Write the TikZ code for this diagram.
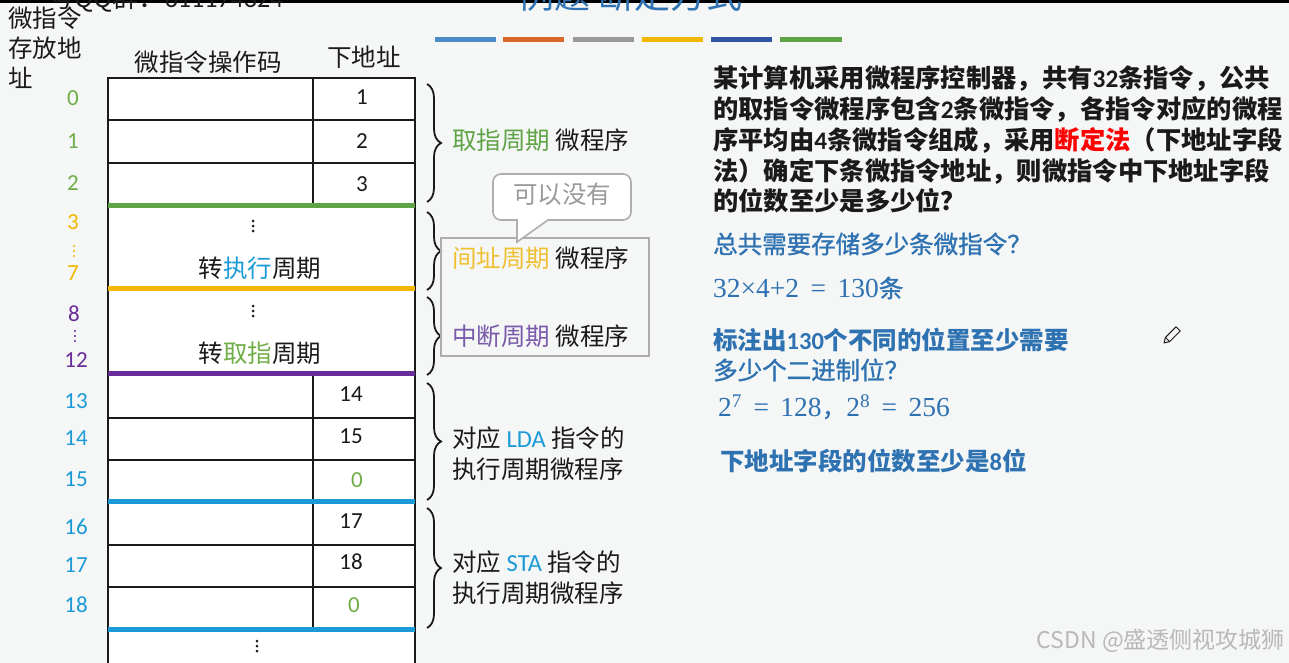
\documentclass[tikz,border=0pt]{standalone}
\usepackage{fontspec}
\setmainfont{Noto Sans CJK SC}
\newfontfamily\cjkm{Noto Sans CJK SC}[FakeBold=1.2]
\newfontfamily\calf{Carlito}
\newfontfamily\serf{Liberation Serif}
\usetikzlibrary{decorations.pathreplacing}
\definecolor{bgc}{HTML}{F5F6F6}
\definecolor{cgreen}{HTML}{70AD47}
\definecolor{lgreen}{HTML}{5EA345}
\definecolor{cyel}{HTML}{F2B700}
\definecolor{lyel}{HTML}{EFC030}
\definecolor{cpurp}{HTML}{6A2C98}
\definecolor{lpurp}{HTML}{7A5AAA}
\definecolor{cblue}{HTML}{1A9BD7}
\definecolor{tblue}{HTML}{2E72B2}
\definecolor{bar1}{HTML}{4A8CC8}
\definecolor{bar2}{HTML}{D9692A}
\definecolor{bar3}{HTML}{9A9A9A}
\definecolor{bar4}{HTML}{F2B800}
\definecolor{bar5}{HTML}{2F55A4}
\definecolor{bar6}{HTML}{5EA345}
\definecolor{tgray}{HTML}{9A9A9A}
\definecolor{ink}{HTML}{1A1A1A}
\begin{document}
\begin{tikzpicture}[x=1pt,y=-1pt,
  t/.style={inner sep=0pt, text=ink, font=\fontsize{24.5}{29}\selectfont},
  tl/.style={t, anchor=west},
  num/.style={inner sep=0pt, font=\calf\fontsize{23}{27}\selectfont},
  q/.style={inner sep=0pt, anchor=west, text=ink, font=\bfseries\fontsize{25.3}{30}\selectfont},
  a/.style={inner sep=0pt, anchor=west, text=tblue, font=\bfseries\fontsize{24.5}{29}\selectfont},
  am/.style={inner sep=0pt, anchor=west, text=tblue, font=\cjkm\fontsize{24.5}{29}\selectfont},
  tline/.style={line width=2.4pt, ink},
  cline/.style={line width=5pt},
  brc/.style={decorate, decoration={brace, amplitude=14pt}, line width=1.8pt, ink},
  bar/.style={line width=5pt},
  dot/.style={circle, fill, inner sep=0pt, minimum size=3pt},
]
\useasboundingbox (0,0) rectangle (1289,663);
\clip (0,0) rectangle (1289,663);
\fill[bgc] (0,0) rectangle (1289,663);
\fill[black] (0,0) rectangle (1289,3);

% partially visible header texts (cut by the top edge, as in the reference)
\node[inner sep=0pt, anchor=base west, text=ink, font=\fontsize{26}{30}\selectfont] (qq) at (48,8) {号QQ群：{\calf 611174324}};
\node[inner sep=0pt, anchor=base west, text=tblue, font=\fontsize{36}{40}\selectfont] (title) at (518,9) {例题 断定方式};

% colour bars
\draw[bar, bar1] (435,40) -- (496,40);
\draw[bar, bar2] (503,40) -- (564,40);
\draw[bar, bar3] (573,40) -- (634,40);
\draw[bar, bar4] (642,40) -- (703,40);
\draw[bar, bar5] (711,40) -- (772,40);
\draw[bar, bar6] (780,40) -- (842,40);

% left heading
\node[tl] (h1) at (8,18) {微指令};
\node[tl] (h2) at (8,48) {存放地};
\node[tl] (h3) at (8,78) {址};
\node[t] (hop) at (208,62) {微指令操作码};
\node[t] (hna) at (364,57) {下地址};

% table
\fill[white] (108,78) rectangle (415,670);
\draw[tline] (108,670) -- (108,78) -- (415,78) -- (415,670);
\foreach \yy in {120,163,418,460,545,587} \draw[tline] (108,\yy) -- (415,\yy);
\draw[tline] (313,78) -- (313,205);
\draw[tline] (313,373) -- (313,629);
\draw[cline, lgreen] (108,205) -- (415,205);
\draw[cline, cyel] (108,288) -- (415,288);
\draw[cline, cpurp] (108,373) -- (415,373);
\draw[cline, cblue] (108,501) -- (415,501);
\draw[cline, cblue] (108,629) -- (415,629);

% next addresses
\node[num, text=ink] (n0) at (362,97) {1};
\node[num, text=ink] (n1) at (362,141) {2};
\node[num, text=ink] (n2) at (362,184) {3};
\node[num, text=ink] (n13) at (351,394) {14};
\node[num, text=ink] (n14) at (351,436) {15};
\node[num, text=cgreen] (n15) at (357,480) {0};
\node[num, text=ink] (n16) at (351,521) {17};
\node[num, text=ink] (n17) at (351,562) {18};
\node[num, text=cgreen] (n18) at (354,605) {0};

% block contents
\node[dot, ink] (d1a) at (253,221) {};
\node[dot, ink] (d1b) at (253,226) {};
\node[dot, ink] (d1c) at (253,231) {};
\node[t] (exe) at (260,268) {转{\color{cblue}执行}周期};
\node[dot, ink] (d2a) at (253,306) {};
\node[dot, ink] (d2b) at (253,311) {};
\node[dot, ink] (d2c) at (253,316) {};
\node[t] (fet) at (260,353) {转{\color{cgreen}取指}周期};
\node[dot, ink] (d3a) at (257,641) {};
\node[dot, ink] (d3b) at (257,646) {};
\node[dot, ink] (d3c) at (257,651) {};

% addresses
\node[num, text=cgreen] (a0) at (73,98) {0};
\node[num, text=cgreen] (a1) at (73,141) {1};
\node[num, text=cgreen] (a2) at (73,183) {2};
\node[num, text=cyel] (a3) at (73,222) {3};
\node[dot, cyel, minimum size=2.2pt] (ay1) at (74,246) {};
\node[dot, cyel, minimum size=2.2pt] (ay2) at (74,251) {};
\node[dot, cyel, minimum size=2.2pt] (ay3) at (74,256) {};
\node[num, text=cyel] (a7) at (73,273) {7};
\node[num, text=cpurp] (a8) at (74,314) {8};
\node[dot, cpurp, minimum size=2.2pt] (ap1) at (75,331) {};
\node[dot, cpurp, minimum size=2.2pt] (ap2) at (75,336) {};
\node[dot, cpurp, minimum size=2.2pt] (ap3) at (75,341) {};
\node[num, text=cpurp] (a12) at (76,360) {12};
\node[num, text=cblue] (a13) at (76,401) {13};
\node[num, text=cblue] (a14) at (76,438) {14};
\node[num, text=cblue] (a15) at (76,479) {15};
\node[num, text=cblue] (a16) at (76,527) {16};
\node[num, text=cblue] (a17) at (76,565) {17};
\node[num, text=cblue] (a18) at (76,605) {18};

% braces
\coordinate (b1t) at (427,84);  \coordinate (b1b) at (427,202);
\coordinate (b2t) at (427,212); \coordinate (b2b) at (427,290);
\coordinate (b3t) at (427,297); \coordinate (b3b) at (427,375);
\coordinate (b4t) at (427,383); \coordinate (b4b) at (427,500);
\coordinate (b5t) at (427,508); \coordinate (b5b) at (427,628);
\draw[brc] (b1t) -- (b1b);
\draw[brc] (b2t) -- (b2b);
\draw[brc] (b3t) -- (b3b);
\draw[brc] (b4t) -- (b4b);
\draw[brc] (b5t) -- (b5b);

% labels right of braces
\node[tl] (l1) at (452,140) {{\color{lgreen}取指周期} 微程序};
\draw[tgray!80, line width=1.8pt] (441,238) rectangle (649,356);
\draw[tgray!80, line width=1.6pt, fill=white]
  (517,242) -- (517,220) [rounded corners=8pt] -- (493,220) -- (493,174) -- (631,174) -- (631,220) [sharp corners] -- (548,220) -- cycle;
\node[t, text=tgray] (bub) at (562,194) {可以没有};
\node[tl] (l2) at (452,258) {{\color{lyel}间址周期} 微程序};
\node[tl] (l3) at (452,336) {{\color{lpurp}中断周期} 微程序};
\node[tl] (l4a) at (452,438) {对应 {\calf\color{cblue}LDA} 指令的};
\node[tl] (l4b) at (452,469) {执行周期微程序};
\node[tl] (l5a) at (452,562) {对应 {\calf\color{cblue}STA} 指令的};
\node[tl] (l5b) at (452,593) {执行周期微程序};

% question
\node[q] (q1) at (713,78) {某计算机采用微程序控制器，共有{\calf 32}条指令，公共};
\node[q] (q2) at (713,109) {的取指令微程序包含{\calf 2}条微指令，各指令对应的微程};
\node[q] (q3) at (713,140) {序平均由{\calf 4}条微指令组成，采用{\color{red}断定法}（下地址字段};
\node[q] (q4) at (713,171) {法）确定下条微指令地址，则微指令中下地址字段};
\node[q] (q5) at (713,201) {的位数至少是多少位？};

% answers
\node[am] (s1) at (713,244) {总共需要存储多少条微指令？};
\node[am] (s2) at (713,288) {{\serf\fontsize{27.5}{30}\selectfont 32×4+2 \,=\, 130}条};
\node[a] (s3) at (713,340) {标注出{\calf 130}个不同的位置至少需要};
\node[am] (s4) at (713,370) {多少个二进制位？};
\node[am] (s5) at (718,407) {{\serf\fontsize{27.5}{30}\selectfont 2\textsuperscript{7} \,=\, 128}，{\serf\fontsize{27.5}{30}\selectfont 2\textsuperscript{8} \,=\, 256}};
\node[a] (s6) at (720,461) {下地址字段的位数至少是{\calf 8}位};

% pencil
\draw[ink, line width=1pt, line join=round] (1164,343) -- (1165.4,337.4) -- (1176,326.8) -- (1180.2,331) -- (1169.6,341.6) -- cycle;
\draw[ink, line width=0.8pt] (1165.4,337.4) -- (1169.6,341.6);

% watermark
\node[inner sep=0pt, anchor=east, text=black!28, font=\fontsize{23}{26}\selectfont] (wm) at (1285,641) {CSDN @盛透侧视攻城狮};
\end{tikzpicture}
\end{document}
